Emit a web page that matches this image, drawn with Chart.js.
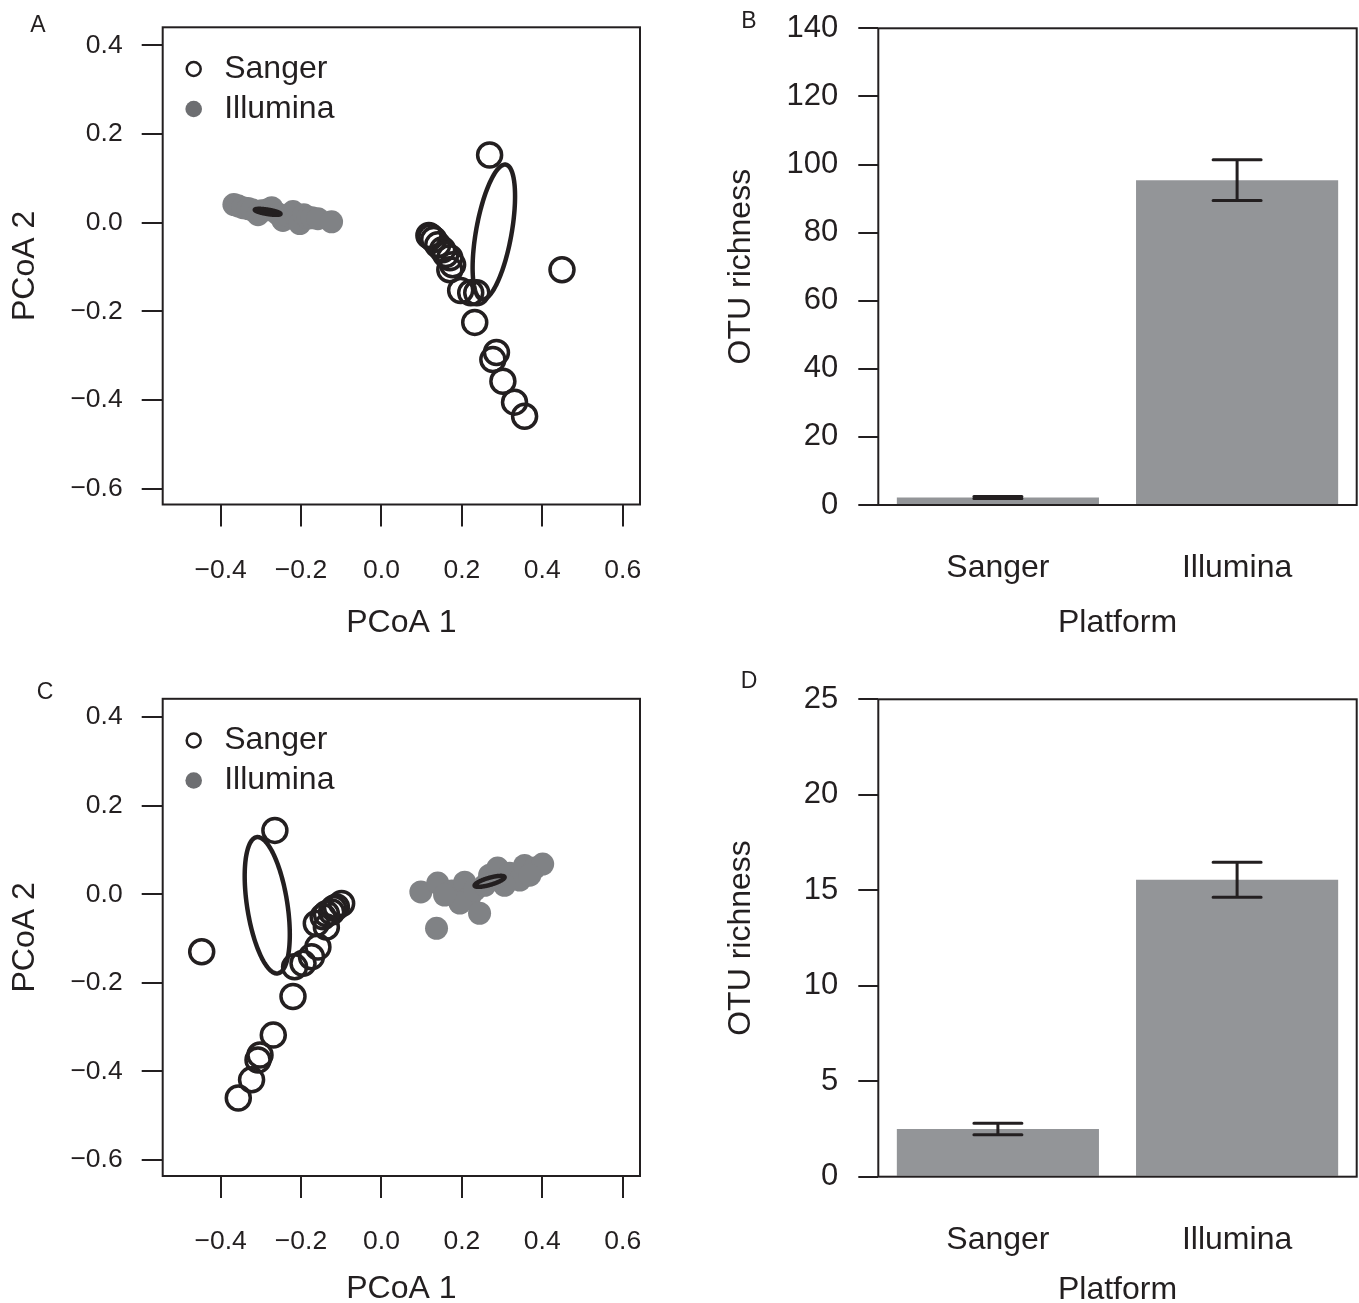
<!DOCTYPE html>
<html>
<head>
<meta charset="utf-8">
<script src="https://cdn.jsdelivr.net/npm/chart.js@4.4.1/dist/chart.umd.min.js"></script>
<style>
html,body{margin:0;padding:0;background:#fff;width:1359px;height:1303px;overflow:hidden;position:relative;}
canvas{position:absolute;display:block;}
.lbl{position:absolute;font-family:"Liberation Sans",Arial,Helvetica,sans-serif;font-size:23px;color:#231f20;line-height:23px;transform:translate(-50%,-50%);}
</style>
</head>
<body>
<canvas id="cA" width="680" height="650" style="left:0;top:0"></canvas>
<canvas id="cB" width="679" height="650" style="left:680px;top:0"></canvas>
<canvas id="cC" width="680" height="650" style="left:0;top:671px"></canvas>
<canvas id="cD" width="679" height="650" style="left:680px;top:671px"></canvas>
<div class="lbl" style="left:38px;top:24px">A</div>
<div class="lbl" style="left:749px;top:20px">B</div>
<div class="lbl" style="left:45px;top:691px">C</div>
<div class="lbl" style="left:749px;top:680px">D</div>
<script>
// ---------------- data ----------------
const seriesNames = ['Sanger', 'Illumina'];

const pcoaXTicks = [-0.4, -0.2, 0.0, 0.2, 0.4, 0.6];
const pcoaXTickLabels = ['\u22120.4', '\u22120.2', '0.0', '0.2', '0.4', '0.6'];
const pcoaYTicks = [-0.6, -0.4, -0.2, 0.0, 0.2, 0.4];
const pcoaYTickLabels = ['\u22120.6', '\u22120.4', '\u22120.2', '0.0', '0.2', '0.4'];
const pcoaXRange = [-0.544, 0.643];
const pcoaYRange = [-0.636, 0.441];

// Panel A (PCoA 1, PCoA 2)
const sangerA = [
  [0.269, 0.153], [0.449, -0.106], [0.118, -0.029], [0.123, -0.032], [0.130, -0.038],
  [0.140, -0.050], [0.152, -0.061], [0.160, -0.072], [0.170, -0.079], [0.177, -0.095],
  [0.170, -0.106], [0.197, -0.153], [0.222, -0.158], [0.237, -0.158], [0.232, -0.225],
  [0.286, -0.293], [0.277, -0.309], [0.302, -0.358], [0.331, -0.405], [0.356, -0.437]
];
const illuminaA = [
  [-0.367, 0.041], [-0.357, 0.038], [-0.345, 0.034], [-0.332, 0.032], [-0.322, 0.029],
  [-0.307, 0.018], [-0.298, 0.027], [-0.283, 0.029], [-0.273, 0.034], [-0.258, 0.020],
  [-0.245, 0.005], [-0.233, 0.016], [-0.220, 0.025], [-0.210, 0.011], [-0.203, -0.002],
  [-0.193, 0.018], [-0.183, 0.011], [-0.173, 0.011], [-0.158, 0.009], [-0.124, 0.002]
];
// ellipse: [centre x, centre y, semi-major, semi-minor, angle in degrees]
const ellipseSangerA = [0.2795, -0.021, 0.155, 0.044, 78.7];
const ellipseIlluminaA = [-0.283, 0.0245, 0.0323, 0.005, -8.3];

// Panel C
const sangerC = [
  [-0.265, 0.144], [-0.447, -0.130], [-0.099, -0.021], [-0.112, -0.029], [-0.119, -0.032],
  [-0.124, -0.040], [-0.137, -0.044], [-0.145, -0.051], [-0.162, -0.066], [-0.137, -0.074],
  [-0.158, -0.119], [-0.174, -0.141], [-0.195, -0.156], [-0.216, -0.164], [-0.220, -0.231],
  [-0.269, -0.318], [-0.302, -0.363], [-0.307, -0.374], [-0.323, -0.419], [-0.356, -0.460]
];
const illuminaC = [
  [0.098, 0.005], [0.140, 0.025], [0.175, 0.007], [0.207, 0.027], [0.219, -0.007],
  [0.195, -0.020], [0.244, -0.043], [0.137, -0.077], [0.269, 0.043], [0.289, 0.059],
  [0.319, 0.047], [0.344, 0.032], [0.356, 0.065], [0.381, 0.059], [0.401, 0.068],
  [0.306, 0.020], [0.157, -0.002], [0.232, 0.009], [0.257, 0.020], [0.369, 0.043]
];
const ellipseSangerC = [-0.284, -0.025, 0.156, 0.050, 99.9];
const ellipseIlluminaC = [0.269, 0.029, 0.0385, 0.008, 14.6];

// Panels B and D (OTU richness by platform)
const platforms = ['Sanger', 'Illumina'];
const richnessB = [2.2, 95.4];
const errorB = [0.3, 6.0];
const richTicksB = [0, 20, 40, 60, 80, 100, 120, 140];
const richnessD = [2.5, 15.55];
const errorD = [0.3, 0.92];
const richTicksD = [0, 5, 10, 15, 20, 25];

// ---------------- style ----------------
const INK = '#231f20';
const PT_GRAY = '#808285';
const LEG_GRAY = '#6d6e71';
const BAR_GRAY = '#939598';
const FAM = '"Liberation Sans", Arial, Helvetica, sans-serif';

function zeroPad(s) { s.paddingTop = 0; s.paddingBottom = 0; s.paddingLeft = 0; s.paddingRight = 0; }

const boxPlugin = {
  id: 'boxFrame',
  afterDatasetsDraw(chart) {
    const { ctx, chartArea: a } = chart;
    ctx.save();
    ctx.strokeStyle = INK;
    ctx.lineWidth = 2;
    ctx.strokeRect(a.left, a.top, a.right - a.left, a.bottom - a.top);
    ctx.restore();
  }
};

function makeEllipsePlugin(list) {
  return {
    id: 'ellipses',
    afterDatasetsDraw(chart) {
      const { ctx } = chart;
      const xs = chart.scales.x, ys = chart.scales.y;
      ctx.save();
      ctx.strokeStyle = INK;
      ctx.lineWidth = 4.5;
      ctx.lineJoin = 'round';
      for (const e of list) {
        const [cx, cy, a, b, deg] = e;
        const th = deg * Math.PI / 180;
        ctx.beginPath();
        const N = 180;
        for (let k = 0; k <= N; k++) {
          const t = 2 * Math.PI * k / N;
          const dx = a * Math.cos(t), dy = b * Math.sin(t);
          const px = xs.getPixelForValue(cx + dx * Math.cos(th) - dy * Math.sin(th));
          const py = ys.getPixelForValue(cy + dx * Math.sin(th) + dy * Math.cos(th));
          if (k === 0) ctx.moveTo(px, py); else ctx.lineTo(px, py);
        }
        ctx.closePath();
        ctx.stroke();
      }
      ctx.restore();
    }
  };
}

const legendPlugin = {
  id: 'pcoaLegend',
  afterDatasetsDraw(chart) {
    const { ctx, chartArea: a } = chart;
    const cx = a.left + 31;
    const y1 = a.top + 41.7, y2 = a.top + 81.7;
    ctx.save();
    ctx.strokeStyle = INK;
    ctx.lineWidth = 2.5;
    ctx.beginPath(); ctx.arc(cx, y1, 7, 0, Math.PI * 2); ctx.stroke();
    ctx.fillStyle = LEG_GRAY;
    ctx.beginPath(); ctx.arc(cx, y2, 8.3, 0, Math.PI * 2); ctx.fill();
    ctx.fillStyle = INK;
    ctx.font = '32px ' + FAM;
    ctx.textAlign = 'left';
    ctx.textBaseline = 'middle';
    ctx.fillText(seriesNames[0], a.left + 61.5, y1);
    ctx.fillText(seriesNames[1], a.left + 61.5, y2);
    ctx.restore();
  }
};

function makeErrorPlugin(values, errors) {
  return {
    id: 'errorBars',
    afterDatasetsDraw(chart) {
      const { ctx } = chart;
      const ys = chart.scales.y;
      const meta = chart.getDatasetMeta(0);
      ctx.save();
      ctx.strokeStyle = INK;
      ctx.lineWidth = 3;
      ctx.lineCap = 'round';
      meta.data.forEach((bar, i) => {
        const x = bar.x;
        const yt = ys.getPixelForValue(values[i] + errors[i]);
        const yb = ys.getPixelForValue(values[i] - errors[i]);
        const hw = 24;
        ctx.beginPath();
        ctx.moveTo(x, yt); ctx.lineTo(x, yb);
        ctx.moveTo(x - hw, yt); ctx.lineTo(x + hw, yt);
        ctx.moveTo(x - hw, yb); ctx.lineTo(x + hw, yb);
        ctx.stroke();
      });
      ctx.restore();
    }
  };
}

function pcoaChart(id, sanger, illumina, ellipses, g) {
  return new Chart(document.getElementById(id), {
    type: 'scatter',
    data: {
      datasets: [
        {
          label: seriesNames[0],
          data: sanger.map(p => ({ x: p[0], y: p[1] })),
          pointRadius: 12, pointHoverRadius: 12,
          pointBorderWidth: 3.5, pointBorderColor: INK,
          pointBackgroundColor: 'rgba(0,0,0,0)',
          borderColor: INK, backgroundColor: 'rgba(0,0,0,0)'
        },
        {
          label: seriesNames[1],
          data: illumina.map(p => ({ x: p[0], y: p[1] })),
          pointRadius: 11.5, pointHoverRadius: 11.5,
          pointBorderWidth: 0, pointBorderColor: PT_GRAY,
          pointBackgroundColor: PT_GRAY,
          borderColor: PT_GRAY, backgroundColor: PT_GRAY
        }
      ]
    },
    options: {
      responsive: false, animation: false, events: [],
      layout: { padding: { left: 0, top: g.top, right: g.right, bottom: 0 } },
      plugins: { legend: { display: false }, tooltip: { enabled: false } },
      scales: {
        x: {
          type: 'linear', min: pcoaXRange[0], max: pcoaXRange[1],
          afterBuildTicks(s) { s.ticks = pcoaXTicks.map(v => ({ value: v })); },
          afterFit(s) { s.height = 650 - g.bottom; zeroPad(s); },
          grid: { drawOnChartArea: false, drawTicks: true, tickLength: 22, lineWidth: 2, color: INK, tickColor: INK },
          border: { display: false },
          ticks: { autoSkip: false, maxRotation: 0, padding: 28, color: INK, font: { family: FAM, size: 26.5 },
                   callback: (v, i) => pcoaXTickLabels[i] },
          title: { display: true, text: 'PCoA 1', color: INK, font: { family: FAM, size: 32 },
                   padding: { top: 0, bottom: g.xTitlePad } }
        },
        y: {
          type: 'linear', min: pcoaYRange[0], max: pcoaYRange[1],
          afterBuildTicks(s) { s.ticks = pcoaYTicks.map(v => ({ value: v })); },
          afterFit(s) { s.width = g.left; zeroPad(s); },
          grid: { drawOnChartArea: false, drawTicks: true, tickLength: 21, lineWidth: 2, color: INK, tickColor: INK },
          border: { display: false },
          ticks: { autoSkip: false, padding: 19, color: INK, font: { family: FAM, size: 26.5 },
                   callback: (v, i) => pcoaYTickLabels[i] },
          title: { display: true, text: 'PCoA 2', color: INK, font: { family: FAM, size: 32 },
                   padding: { top: g.yTitlePad, bottom: 0 } }
        }
      }
    },
    plugins: [makeEllipsePlugin(ellipses), boxPlugin, legendPlugin]
  });
}

function richChart(id, values, errors, ticks, g) {
  return new Chart(document.getElementById(id), {
    type: 'bar',
    data: {
      labels: platforms,
      datasets: [{
        data: values, backgroundColor: BAR_GRAY, borderWidth: 0,
        barPercentage: 1, categoryPercentage: 0.845
      }]
    },
    options: {
      responsive: false, animation: false, events: [],
      layout: { padding: { left: 0, top: g.top, right: g.right, bottom: 0 } },
      plugins: { legend: { display: false }, tooltip: { enabled: false } },
      scales: {
        x: {
          type: 'category',
          afterFit(s) { s.height = 650 - g.bottom; zeroPad(s); },
          grid: { display: false, drawTicks: false, tickLength: 0 },
          border: { display: false },
          ticks: { padding: g.catPad, color: INK, font: { family: FAM, size: 32 }, maxRotation: 0 },
          title: { display: true, text: 'Platform', color: INK, font: { family: FAM, size: 32 },
                   padding: { top: 0, bottom: g.xTitlePad } }
        },
        y: {
          type: 'linear', min: ticks[0], max: ticks[ticks.length - 1],
          afterBuildTicks(s) { s.ticks = ticks.map(v => ({ value: v })); },
          afterFit(s) { s.width = g.left; zeroPad(s); },
          grid: { drawOnChartArea: false, drawTicks: true, tickLength: 20, lineWidth: 2, color: INK, tickColor: INK },
          border: { display: false },
          ticks: { autoSkip: false, padding: 20, color: INK, font: { family: FAM, size: 31 },
                   callback: v => String(v) },
          title: { display: true, text: 'OTU richness', color: INK, font: { family: FAM, size: 32 },
                   padding: { top: 41.8, bottom: 0 } }
        }
      }
    },
    plugins: [makeErrorPlugin(values, errors), boxPlugin]
  });
}

pcoaChart('cA', sangerA, illuminaA, [ellipseSangerA, ellipseIlluminaA],
  { left: 162.7, top: 27.3, right: 40, bottom: 504.5, xTitlePad: 8, yTitlePad: 5.8 });
pcoaChart('cC', sangerC, illuminaC, [ellipseSangerC, ellipseIlluminaC],
  { left: 162.7, top: 27.8, right: 40, bottom: 505, xTitlePad: 13, yTitlePad: 5.8 });
richChart('cB', richnessB, errorB, richTicksB,
  { left: 198.3, top: 28.3, right: 2.3, bottom: 505, catPad: 44, xTitlePad: 7.5 });
richChart('cD', richnessD, errorD, richTicksD,
  { left: 198.3, top: 28.3, right: 2.3, bottom: 505.7, catPad: 44, xTitlePad: 12 });
</script>
</body>
</html>
